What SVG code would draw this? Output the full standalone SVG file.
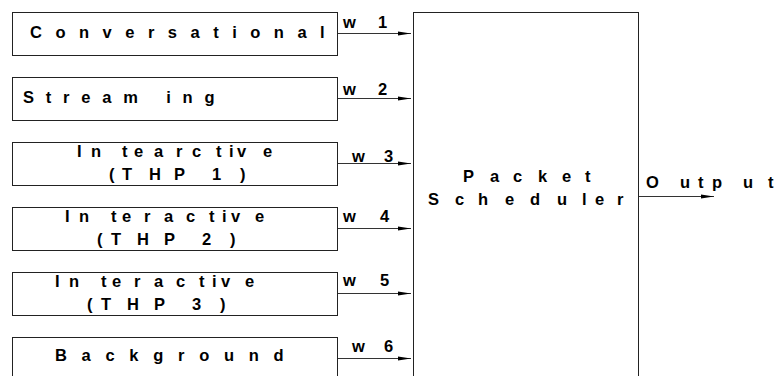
<svg xmlns="http://www.w3.org/2000/svg" width="777" height="376" viewBox="0 0 777 376">
<defs>
<style>
.box{fill:#fff;stroke:#222;stroke-width:1}
.t{font-family:"Liberation Sans",Arial,sans-serif;font-weight:bold;font-size:16.5px;fill:#000}
.ln{stroke:#333;stroke-width:1;fill:none}
</style>
<marker id="ah" markerUnits="userSpaceOnUse" markerWidth="14" markerHeight="6" refX="13" refY="3" orient="auto" viewBox="0 0 14 6">
<path d="M0,1 L13,3 L0,5 Z" fill="#000"/>
</marker>
</defs>
<rect width="777" height="376" fill="#fff"/>
<g id="scheduler">
<rect class="box" x="413.5" y="12.5" width="225" height="380"/>
<text class="t" y="182"><tspan x="463 490 513 538 562 585">Packet</tspan></text>
<text class="t" y="205"><tspan x="428 455 478 505 530 557 582 595 617">Scheduler</tspan></text>
</g>
<g id="conversational">
<rect class="box" x="12.5" y="12.5" width="325" height="43"/>
<text class="t" x="30" y="38" letter-spacing="13.5">Conversational</text>
</g>
<g id="streaming">
<rect class="box" x="12.5" y="77.5" width="325" height="43"/>
<text class="t" x="23" y="103" letter-spacing="11.8">Stream ing</text>
</g>
<g id="interactive1">
<rect class="box" x="12.5" y="142.5" width="325" height="43"/>
<text class="t" y="157" x="77 91 122 134 154 176 192 216 229 237 263">Intearctive</text>
<text class="t" y="180" x="109 122 149 174 212 240">(THP1)</text>
</g>
<g id="interactive2">
<rect class="box" x="12.5" y="207.5" width="325" height="43"/>
<text class="t" y="222" x="65 79 111 122 144 164 186 209 222 231 255">Interactive</text>
<text class="t" y="245" x="97 111 137 164 202 230">(THP2)</text>
</g>
<g id="interactive3">
<rect class="box" x="12.5" y="272.5" width="325" height="43"/>
<text class="t" y="287" x="55 69 101 112 134 154 176 199 212 221 245">Interactive</text>
<text class="t" y="310" x="87 101 127 154 192 220">(THP3)</text>
</g>
<g id="background">
<rect class="box" x="12.5" y="337.5" width="325" height="50"/>
<text class="t" x="55" y="361" letter-spacing="14.7">Background</text>
</g>
<g id="output-label">
<text class="t" y="188" x="646 680 698 712 743 768">Output</text>
</g>
<g id="connectors">
<line class="ln" x1="338" y1="33.5" x2="411" y2="33.5" marker-end="url(#ah)"/>
<line class="ln" x1="338" y1="98.5" x2="411" y2="98.5" marker-end="url(#ah)"/>
<line class="ln" x1="338" y1="163.5" x2="411" y2="163.5" marker-end="url(#ah)"/>
<line class="ln" x1="338" y1="228.5" x2="411" y2="228.5" marker-end="url(#ah)"/>
<line class="ln" x1="338" y1="293.5" x2="411" y2="293.5" marker-end="url(#ah)"/>
<line class="ln" x1="338" y1="358.5" x2="411" y2="358.5" marker-end="url(#ah)"/>
<line class="ln" x1="639" y1="196.5" x2="714" y2="196.5" marker-end="url(#ah)"/>
<text class="t" y="28" x="343 378">w1</text>
<text class="t" y="95" x="343 378">w2</text>
<text class="t" y="162" x="352 384">w3</text>
<text class="t" y="222" x="343 380">w4</text>
<text class="t" y="286" x="343 380">w5</text>
<text class="t" y="352" x="352 384">w6</text>
</g>
</svg>
